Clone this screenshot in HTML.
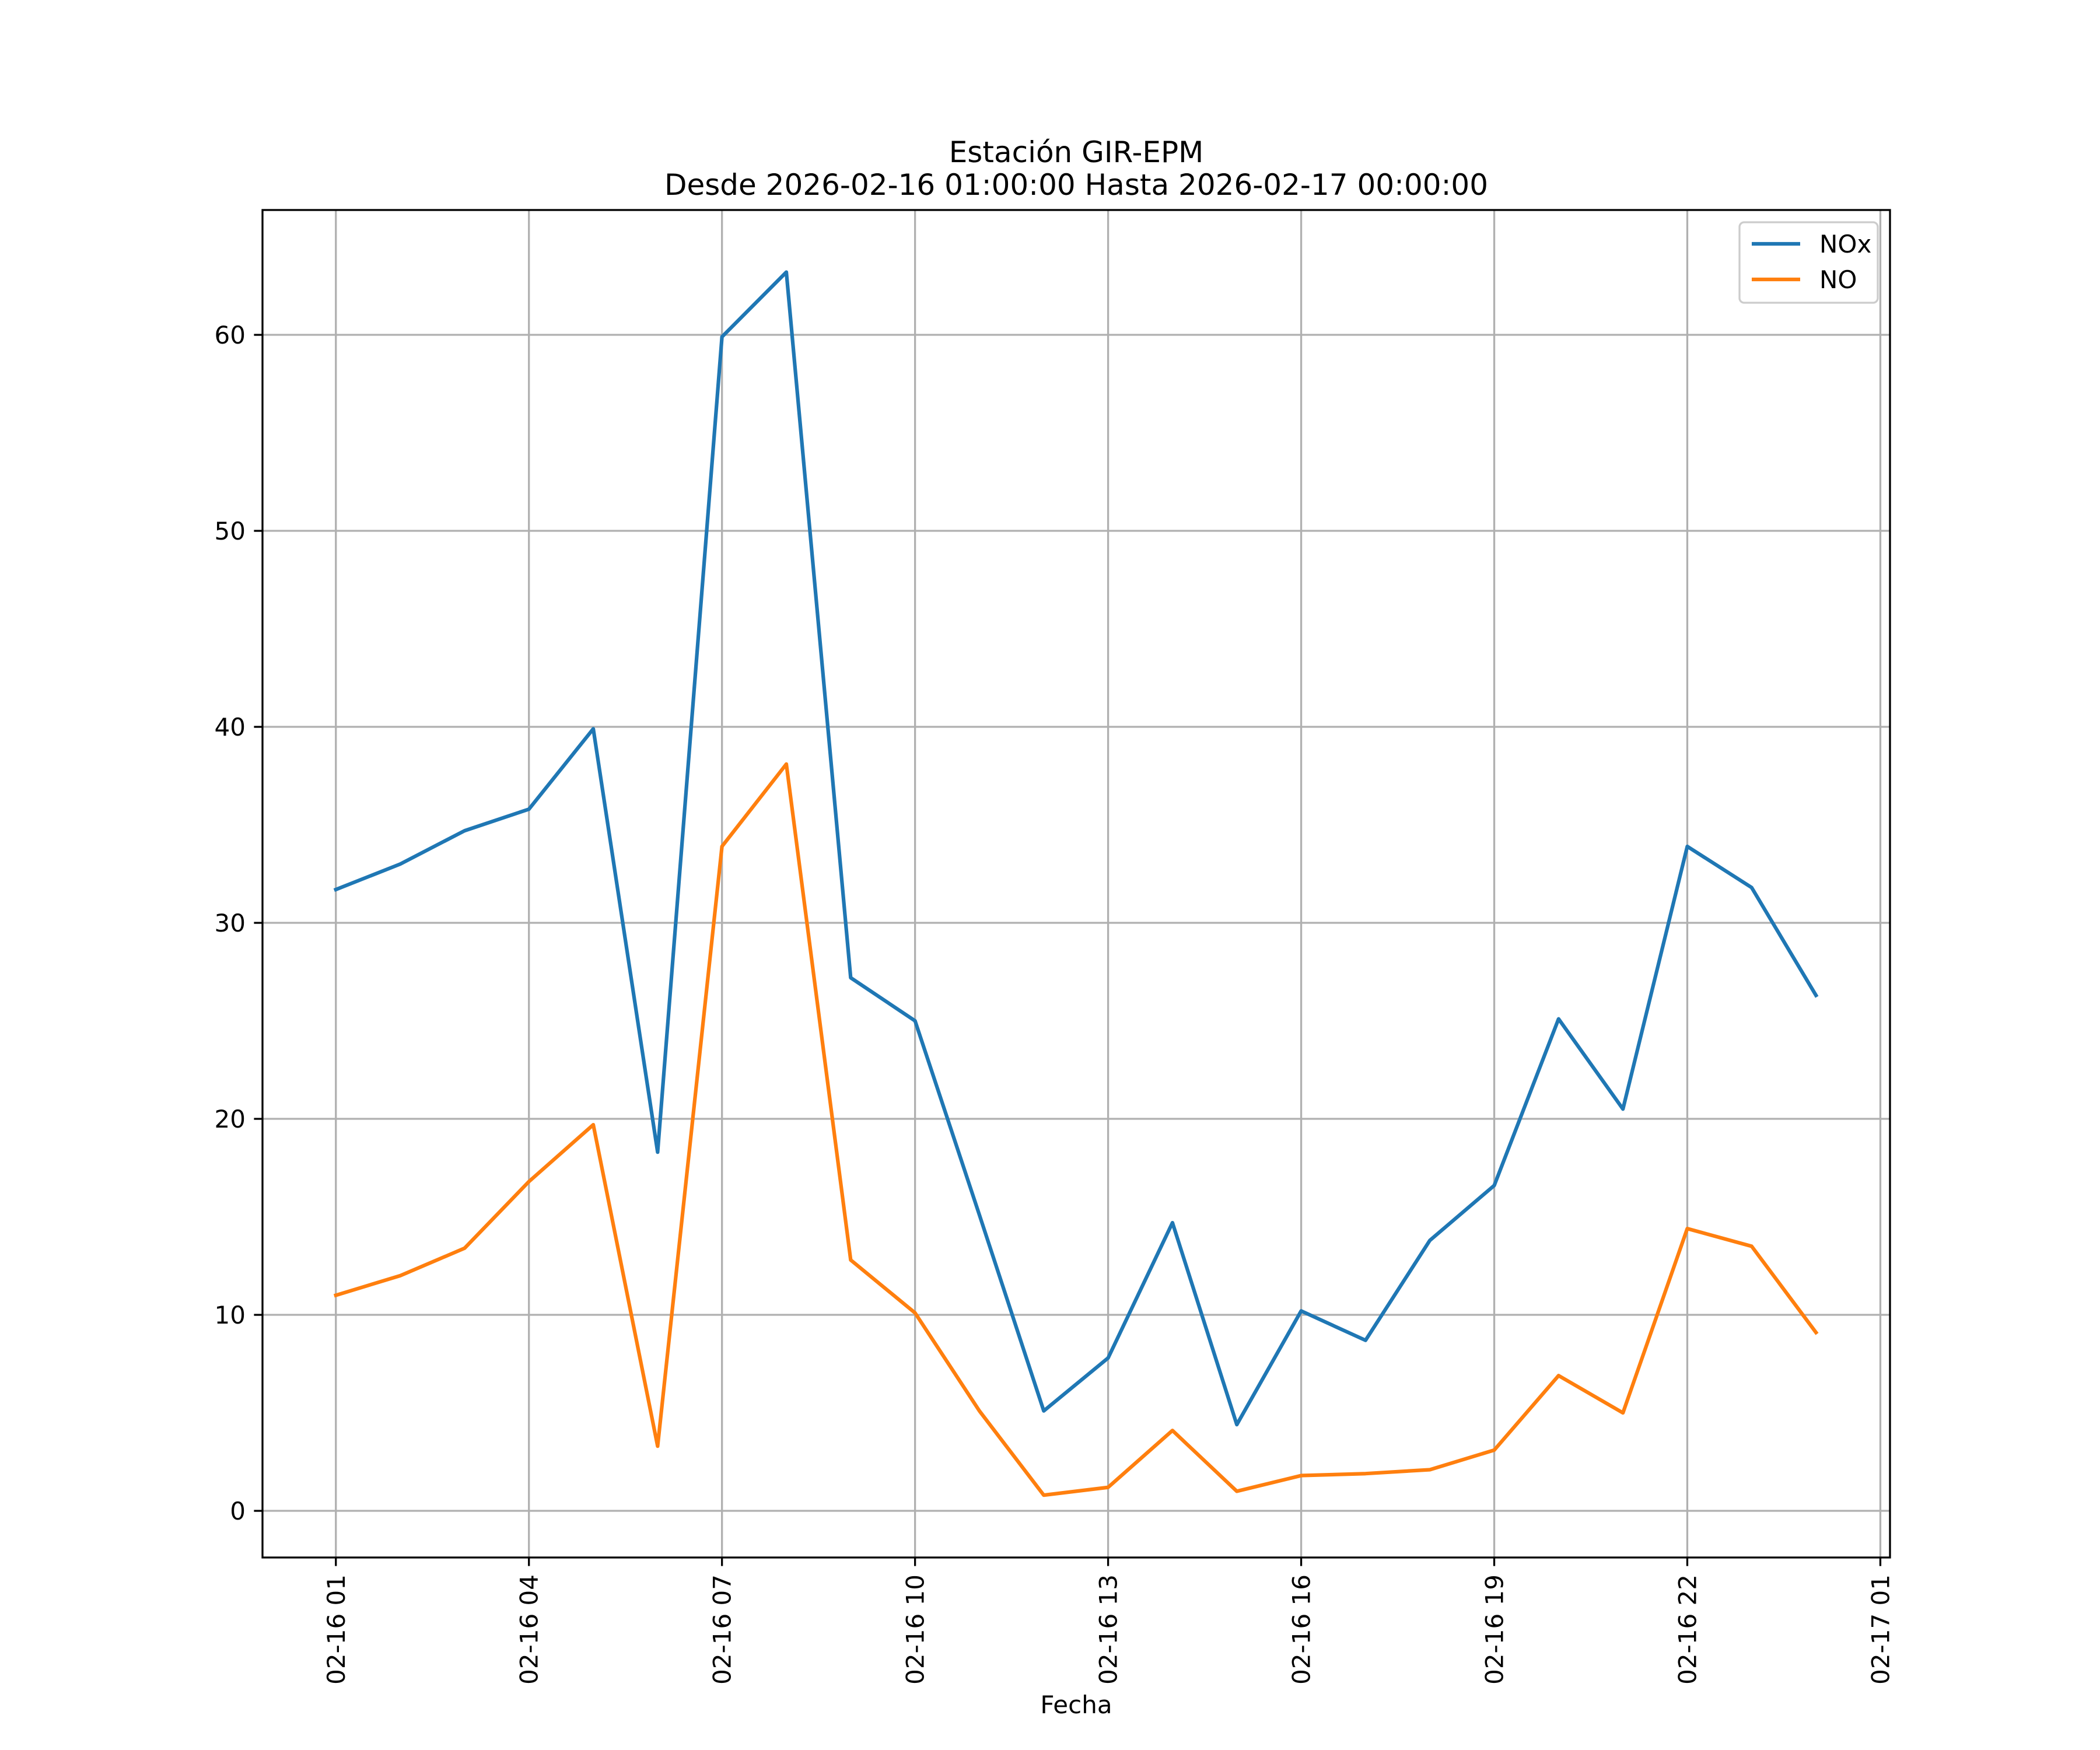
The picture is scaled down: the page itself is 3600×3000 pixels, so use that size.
<!DOCTYPE html>
<html><head><meta charset="utf-8"><style>
html,body{margin:0;padding:0;background:#fff}
svg{display:block;font-family:"DejaVu Sans","Liberation Sans",sans-serif}
</style></head><body>
<svg id="chart" width="3600" height="3000" viewBox="0 0 3600 3000" xmlns="http://www.w3.org/2000/svg">
<rect width="3600" height="3000" fill="#fff"/>
<text x="1845" y="278" font-size="50" text-anchor="middle">Estación GIR-EPM</text>
<text x="1845" y="334" font-size="50" text-anchor="middle">Desde 2026-02-16 01:00:00 Hasta 2026-02-17 00:00:00</text>
<g id="grid"></g>
<g id="series"></g>
<rect x="450" y="360" width="2790" height="2310" fill="none" stroke="#000" stroke-width="3.3"/>
<g id="ticks"></g>
<text x="1845" y="2937" font-size="42" text-anchor="middle">Fecha</text>
<g>
<rect x="2982" y="381" width="237" height="138" rx="8" fill="#fff" fill-opacity="0.8" stroke="#ccc" stroke-width="3.3"/>
<line x1="3003" y1="418" x2="3086" y2="418" stroke="#1f77b4" stroke-width="6.25"/>
<text x="3119" y="433" font-size="42">NOx</text>
<line x1="3003" y1="479" x2="3086" y2="479" stroke="#ff7f0e" stroke-width="6.25"/>
<text x="3119" y="494" font-size="42">NO</text>
</g>
</svg>
<script>
const hours = [0,1,2,3,4,5,6,7,8,9,10,11,12,13,14,15,16,17,18,19,20,21,22,23];
const noxValues = [31.7,33.0,34.7,35.8,39.9,18.3,59.9,63.2,27.2,25.0,15.1,5.1,7.8,14.7,4.4,10.2,8.7,13.8,16.6,25.1,20.5,33.9,31.8,26.3];
const noValues = [11.0,12.0,13.4,16.8,19.7,3.3,33.9,38.1,12.8,10.1,5.1,0.8,1.2,4.1,1.0,1.8,1.9,2.1,3.1,6.9,5.0,14.4,13.5,9.1];
const yTicks = [0,10,20,30,40,50,60];
const xTickHours = [0,3,6,9,12,15,18,21,24];
const xTickLabels = ["02-16 01","02-16 04","02-16 07","02-16 10","02-16 13","02-16 16","02-16 19","02-16 22","02-17 01"];

const NS="http://www.w3.org/2000/svg";
const L=450,R=3240,T=360,B=2670;
const xMin=-1.14,xMax=24.15,yMin=-2.38,yMax=66.37;
const xs=h=>L+(h-xMin)/(xMax-xMin)*(R-L);
const ys=v=>B-(v-yMin)/(yMax-yMin)*(B-T);
function mk(tag,attrs,parent){const e=document.createElementNS(NS,tag);for(const k in attrs)e.setAttribute(k,attrs[k]);parent.appendChild(e);return e;}
const grid=document.getElementById('grid'),ticks=document.getElementById('ticks'),series=document.getElementById('series');

yTicks.forEach(v=>{
  const y=ys(v);
  const g=mk('line',{x1:L,x2:R,y1:y,y2:y,stroke:'#b0b0b0','stroke-width':3.3},grid);
  
  
  const t=mk('line',{x1:L-14.6,x2:L,y1:y,y2:y,stroke:'#000','stroke-width':3.3},ticks);
  
  
  const tx=mk('text',{x:L-29,y:y+15,'font-size':42,'text-anchor':'end'},ticks);
  tx.textContent=v;
  
  
});
xTickHours.forEach((h,i)=>{
  const x=xs(h);
  const g=mk('line',{x1:x,x2:x,y1:T,y2:B,stroke:'#b0b0b0','stroke-width':3.3},grid);
  
  
  const t=mk('line',{x1:x,x2:x,y1:B,y2:B+14.6,stroke:'#000','stroke-width':3.3},ticks);
  
  
  const tx=mk('text',{x:0,y:0,'font-size':42,'text-anchor':'end',transform:`translate(${x+15},${B+29}) rotate(-90)`},ticks);
  tx.textContent=xTickLabels[i];
  
  
});
function line(vals,color,name){
  const p=mk('polyline',{points:hours.map((h,i)=>xs(h)+','+ys(vals[i])).join(' '),fill:'none',stroke:color,'stroke-width':6.25,'stroke-linejoin':'round','stroke-linecap':'square'},series);
  
  
}
line(noxValues,'#1f77b4','nox-line');
line(noValues,'#ff7f0e','no-line');
</script>
</body></html>
